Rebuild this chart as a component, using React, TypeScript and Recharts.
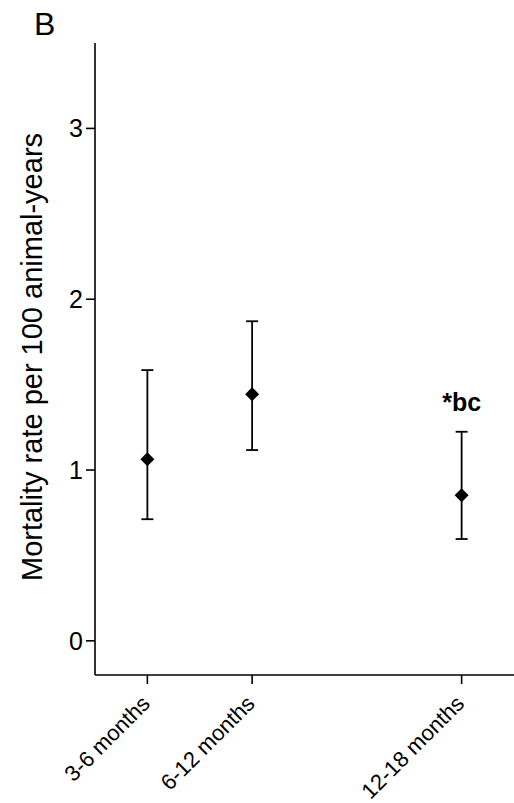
import React from 'react'
import { ScatterChart, Scatter, XAxis, YAxis, ErrorBar, ReferenceDot } from 'recharts'

const periods = ['3-6 months', '6-12 months', '12-18 months']
const periodPos = [1, 2, 4]
const rates = [1.063, 1.444, 0.852]
const lowerCI = [0.712, 1.117, 0.596]
const upperCI = [1.585, 1.871, 1.224]
const notes = ['', '', '*bc']
const yTicks = [0, 1, 2, 3]

const FONT = '"Liberation Sans", Arial, Helvetica, sans-serif'

const data = periods.map((p, i) => ({
  name: p,
  x: periodPos[i],
  y: rates[i],
  err: [rates[i] - lowerCI[i], upperCI[i] - rates[i]],
}))

// diamond marker
const Diamond = (props: any) => {
  const { cx, cy } = props
  const s = 7
  return <polygon points={`${cx},${cy - s} ${cx + s},${cy} ${cx},${cy + s} ${cx - s},${cy}`} fill="#000" />
}

const XTick = (props: any) => {
  const { x, y, payload } = props
  const idx = periodPos.indexOf(payload.value)
  const ax = x + 4
  const ay = y + 19
  return (
    <text x={ax} y={ay} transform={`rotate(-45 ${ax} ${ay})`} textAnchor="end" fontSize={22} fontFamily={FONT} fill="#000">
      {periods[idx]}
    </text>
  )
}

const YLabel = (props: any) => {
  const { viewBox } = props
  const cx = viewBox.x + 42
  const cy = viewBox.y + viewBox.height / 2 - 2
  return (
    <text x={cx} y={cy} transform={`rotate(-90 ${cx} ${cy})`} textAnchor="middle" fontSize={29} fontFamily={FONT} fill="#000">
      Mortality rate per 100 animal-years
    </text>
  )
}

export default function App() {
  return (
    <div style={{ position: 'absolute', left: 0, top: 0, width: 514, height: 803, background: '#fff' }}>
      <ScatterChart width={514} height={803} margin={{ top: 43, right: 0, bottom: 0, left: 0 }}>
        <XAxis
          type="number"
          dataKey="x"
          domain={[0.5, 4.5]}
          ticks={periodPos}
          height={128}
          tickSize={9}
          tickMargin={2}
          axisLine={{ stroke: '#000', strokeWidth: 1.6 }}
          tickLine={{ stroke: '#000', strokeWidth: 1.6 }}
          tick={<XTick />}
          interval={0}
        />
        <YAxis
          type="number"
          dataKey="y"
          domain={[-0.2, 3.5]}
          ticks={yTicks}
          width={95}
          tickSize={9}
          tickMargin={3}
          axisLine={{ stroke: '#000', strokeWidth: 1.6 }}
          tickLine={{ stroke: '#000', strokeWidth: 1.6 }}
          tick={{ fontSize: 25, fontFamily: FONT, fill: '#000' }}
          label={<YLabel />}
        />
        <Scatter data={data} shape={<Diamond />} isAnimationActive={false}>
          <ErrorBar dataKey="err" direction="y" width={6} stroke="#000" strokeWidth={1.8} isAnimationActive={false} />
        </Scatter>
        {notes.map((n, i) =>
          n ? (
            <ReferenceDot
              key={i}
              x={periodPos[i]}
              y={upperCI[i]}
              r={0}
              stroke="none"
              fill="none"
              label={{ value: n, position: 'top', offset: 21, fontSize: 25, fontWeight: 'bold', fontFamily: FONT, fill: '#000' }}
            />
          ) : null
        )}
      </ScatterChart>
      <div style={{ position: 'absolute', left: 34, top: 8, fontSize: '32px', lineHeight: '32px', fontFamily: FONT, color: '#000' }}>B</div>
    </div>
  )
}
